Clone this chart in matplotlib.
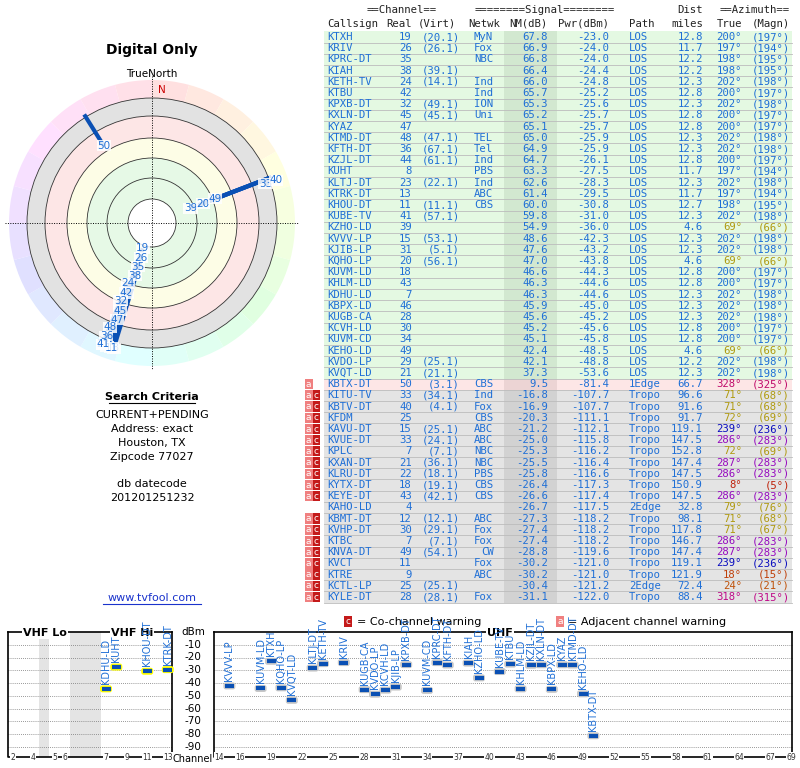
import colorsys
import numpy as np
import matplotlib
matplotlib.use("Agg")
import matplotlib.pyplot as plt
from matplotlib.patches import Circle, Wedge, Rectangle, FancyBboxPatch

# ── Station table ─────────────────────────────────────────────────────────────
callsign = ["KTXH", "KRIV", "KPRC-DT", "KIAH", "KETH-TV", "KTBU", "KPXB-DT", "KXLN-DT", "KYAZ",
            "KTMD-DT", "KFTH-DT", "KZJL-DT", "KUHT", "KLTJ-DT", "KTRK-DT", "KHOU-DT", "KUBE-TV",
            "KZHO-LD", "KVVV-LP", "KJIB-LP", "KQHO-LP", "KUVM-LD", "KHLM-LD", "KDHU-LD", "KBPX-LD",
            "KUGB-CA", "KCVH-LD", "KUVM-CD", "KEHO-LD", "KVDO-LP", "KVQT-LD", "KBTX-DT", "KITU-TV",
            "KBTV-DT", "KFDM", "KAVU-DT", "KVUE-DT", "KPLC", "KXAN-DT", "KLRU-DT", "KYTX-DT",
            "KEYE-DT", "KAHO-LD", "KBMT-DT", "KVHP-DT", "KTBC", "KNVA-DT", "KVCT", "KTRE",
            "KCTL-LP", "KYLE-DT"]
real_ch = [19, 26, 35, 38, 24, 42, 32, 45, 47, 48, 36, 44, 8, 23, 13, 11, 41, 39, 15, 31, 20, 18,
           43, 7, 46, 28, 30, 34, 49, 29, 21, 50, 33, 40, 25, 15, 33, 7, 21, 22, 18, 43, 4, 12, 30,
           7, 49, 11, 9, 25, 28]
virt_ch = ["20.1", "26.1", "", "39.1", "14.1", "", "49.1", "45.1", "", "47.1", "67.1", "61.1", "",
           "22.1", "", "11.1", "57.1", "", "53.1", "5.1", "56.1", "", "", "", "", "", "", "", "",
           "25.1", "21.1", "3.1", "34.1", "4.1", "", "25.1", "24.1", "7.1", "36.1", "18.1", "19.1",
           "42.1", "", "12.1", "29.1", "7.1", "54.1", "", "", "25.1", "28.1"]
network = ["MyN", "Fox", "NBC", "", "Ind", "Ind", "ION", "Uni", "", "TEL", "Tel", "Ind", "PBS", "Ind",
           "ABC", "CBS", "", "", "", "", "", "", "", "", "", "", "", "", "", "", "", "CBS", "Ind",
           "Fox", "CBS", "ABC", "ABC", "NBC", "NBC", "PBS", "CBS", "CBS", "", "ABC", "Fox", "Fox",
           "CW", "Fox", "ABC", "", "Fox"]
nm_db = [67.8, 66.9, 66.8, 66.4, 66.0, 65.7, 65.3, 65.2, 65.1, 65.0, 64.9, 64.7, 63.3, 62.6, 61.4,
         60.0, 59.8, 54.9, 48.6, 47.6, 47.0, 46.6, 46.3, 46.3, 45.9, 45.6, 45.2, 45.1, 42.4, 42.1,
         37.3, 9.5, -16.8, -16.9, -20.3, -21.2, -25.0, -25.3, -25.5, -25.8, -26.4, -26.6, -26.7,
         -27.3, -27.4, -27.4, -28.8, -30.2, -30.2, -30.4, -31.1]
pwr_dbm = [-23.0, -24.0, -24.0, -24.4, -24.8, -25.2, -25.6, -25.7, -25.7, -25.9, -25.9, -26.1, -27.5,
           -28.3, -29.5, -30.8, -31.0, -36.0, -42.3, -43.2, -43.8, -44.3, -44.6, -44.6, -45.0,
           -45.2, -45.6, -45.8, -48.5, -48.8, -53.6, -81.4, -107.7, -107.7, -111.1, -112.1,
           -115.8, -116.2, -116.4, -116.6, -117.3, -117.4, -117.5, -118.2, -118.2, -118.2,
           -119.6, -121.0, -121.0, -121.2, -122.0]
path = ["LOS"] * 31 + ["1Edge"] + ["Tropo"] * 10 + ["2Edge"] + ["Tropo"] * 6 + ["2Edge", "Tropo"]
dist = [12.8, 11.7, 12.2, 12.2, 12.3, 12.8, 12.3, 12.8, 12.8, 12.3, 12.3, 12.8, 11.7, 12.3, 11.7,
        12.7, 12.3, 4.6, 12.3, 12.3, 4.6, 12.8, 12.8, 12.3, 12.3, 12.3, 12.8, 12.8, 4.6, 12.2,
        12.3, 66.7, 96.6, 91.6, 91.7, 119.1, 147.5, 152.8, 147.4, 147.5, 150.9, 147.5, 32.8,
        98.1, 117.8, 146.7, 147.4, 119.1, 121.9, 72.4, 88.4]
az_true = [200, 197, 198, 198, 202, 200, 202, 200, 200, 202, 202, 200, 197, 202, 197, 198, 202, 69,
           202, 202, 69, 200, 200, 202, 202, 202, 200, 200, 69, 202, 202, 328, 71, 71, 72, 239,
           286, 72, 287, 286, 8, 286, 79, 71, 71, 286, 287, 239, 18, 24, 318]
az_magn = [197, 194, 195, 195, 198, 197, 198, 197, 197, 198, 198, 197, 194, 198, 194, 195, 198, 66,
           198, 198, 66, 197, 197, 198, 198, 198, 197, 197, 66, 198, 198, 325, 68, 68, 69, 236,
           283, 69, 283, 283, 5, 283, 76, 68, 67, 283, 283, 236, 15, 21, 315]
warn = [""] * 31 + ["a"] + ["ac"] * 10 + [""] + ["ac"] * 8

BLUE = "#1f6fd6"
MONO = "DejaVu Sans Mono"
SANS = "DejaVu Sans"

fig = plt.figure(figsize=(8, 7.68), dpi=100)
ax = fig.add_axes([0, 0, 1, 1])
ax.set_xlim(0, 800)
ax.set_ylim(768, 0)
ax.axis("off")


def az_color(a):
    if 190 <= a <= 210:
        return BLUE
    if 60 <= a <= 80:
        return "#b09a10"
    r, g, b = colorsys.hsv_to_rgb((a / 360.0) % 1.0, 0.95, 0.75)
    return (r, g, b)


# ── Table ─────────────────────────────────────────────────────────────────────
fs = 7.7
row0, rh = 37.0, 11.2
ax.text(402, 10, "==Channel==", family=MONO, fontsize=fs, ha="center", va="center", color="#222")
ax.text(545, 10, "========Signal========", family=MONO, fontsize=fs, ha="center", va="center", color="#222")
ax.text(703, 10, "Dist", family=MONO, fontsize=fs, ha="right", va="center", color="#222")
ax.text(755, 10, "==Azimuth==", family=MONO, fontsize=fs, ha="center", va="center", color="#222")
hdr = [(327, "Callsign", "left"), (412, "Real", "right"), (437, "(Virt)", "center"),
       (468, "Netwk", "left"), (548, "NM(dB)", "right"), (609, "Pwr(dBm)", "right"),
       (629, "Path", "left"), (703, "miles", "right"), (717, "True", "left"), (790, "(Magn)", "right")]
for x, t, ha in hdr:
    ax.text(x, 24, t, family=MONO, fontsize=fs, ha=ha, va="center", color="#222")

for i in range(len(callsign)):
    y = row0 + i * rh
    if path[i] == "LOS":
        bg, nmbg = "#e4f9e2", "#d2e8d0"
    elif path[i] == "1Edge":
        bg, nmbg = "#fde6e6", "#ecd4d4"
    else:
        bg, nmbg = "#e4e4e4", "#d2d2d2"
    ax.add_patch(Rectangle((324, y - rh / 2), 468, rh, facecolor=bg, edgecolor="none"))
    ax.add_patch(Rectangle((504, y - rh / 2), 53, rh, facecolor=nmbg, edgecolor="none"))
    ax.plot([324, 792], [y + rh / 2, y + rh / 2], color="#bcbcbc", lw=0.6)
    if "a" in warn[i]:
        ax.add_patch(Rectangle((305, y - rh / 2 + 0.5), 7.5, rh - 1, facecolor="#f08080", edgecolor="none"))
        ax.text(308.7, y, "a", family=SANS, fontsize=6.5, ha="center", va="center", color="white")
    if "c" in warn[i]:
        ax.add_patch(Rectangle((312.5, y - rh / 2 + 0.5), 7.5, rh - 1, facecolor="#c41a1a", edgecolor="none"))
        ax.text(316.2, y, "c", family=SANS, fontsize=6.5, ha="center", va="center", color="white")
    kw = dict(family=MONO, fontsize=fs, va="center", color=BLUE)
    ax.text(327, y, callsign[i], ha="left", **kw)
    ax.text(412, y, str(real_ch[i]), ha="right", **kw)
    if virt_ch[i]:
        ax.text(460, y, "(%s)" % virt_ch[i], ha="right", **kw)
    ax.text(494 if network[i] == "CW" else 474, y, network[i], ha="right" if network[i] == "CW" else "left", **kw)
    ax.text(548, y, "%.1f" % nm_db[i], ha="right", **kw)
    ax.text(609, y, "%.1f" % pwr_dbm[i], ha="right", **kw)
    ax.text(629, y, path[i], ha="left", **kw)
    ax.text(703, y, "%.1f" % dist[i], ha="right", **kw)
    c = az_color(az_true[i])
    ax.text(742, y, "%d°" % az_true[i], ha="right", family=MONO, fontsize=fs, va="center", color=c)
    ax.text(790, y, "(%d°)" % az_magn[i], ha="right", family=MONO, fontsize=fs, va="center", color=c)

# ── Radar ─────────────────────────────────────────────────────────────────────
cx, cy = 152, 223
ax.text(cx, 50, "Digital Only", family=SANS, fontsize=10, fontweight="bold", ha="center", va="center")
ax.text(cx, 74, "TrueNorth", family=SANS, fontsize=7.5, ha="center", va="center")
for a0 in range(0, 360, 15):
    r, g, b = colorsys.hsv_to_rgb(a0 / 360.0, 0.12, 1.0)
    ax.add_patch(Wedge((cx, cy), 143, a0 - 90, a0 - 75, width=18, facecolor=(r, g, b), edgecolor="none"))
for rad, col in [(125, "#e2e2e2"), (107, "#fde6e6"), (85, "#fdfde6"), (65, "#e6f9e6"), (24, "white")]:
    ax.add_patch(Circle((cx, cy), rad, facecolor=col, edgecolor="none"))
for rad in [24, 45, 65, 85, 107, 125]:
    ax.add_patch(Circle((cx, cy), rad, facecolor="none", edgecolor="#333", lw=0.6))
ax.plot([cx - 147, cx + 147], [cy, cy], color="black", lw=0.7, ls=(0, (1, 1.5)))
ax.plot([cx, cx], [cy - 147, cy + 147], color="black", lw=0.7, ls=(0, (1, 1.5)))
ax.text(cx + 10, cy - 133, "N", family=SANS, fontsize=7.5, color="#cc0000", ha="center", va="center")


def polar_xy(a, rad):
    t = np.radians(a)
    return cx + rad * np.sin(t), cy - rad * np.cos(t)


# stations drawn on the radar: usable signal, full power (plus the nearby low-power group at 69°)
shown = [i for i in range(len(callsign))
         if nm_db[i] > -20 and (callsign[i][-3:] not in ("-LD", "-LP", "-CA", "-CD") or az_true[i] < 100)]
groups = {}
for i in shown:
    groups.setdefault((round(az_true[i] / 15.0), path[i] == "LOS"), []).append(i)

for key, idx in groups.items():
    idx = sorted(idx, key=lambda k: -nm_db[k])
    r_start = 27 + (67.8 - nm_db[idx[0]]) * 1.1
    step = 13.0 if len(idx) < 5 else 9.5
    radii = [min(r_start + k * step, 131) for k in range(len(idx))]
    for k, i in enumerate(idx):
        x0, y0 = polar_xy(az_true[i], radii[k])
        x1, y1 = polar_xy(az_true[i], 128)
        if real_ch[i] <= 13:
            ax.plot([x0, x1], [y0, y1], color="yellow", lw=7, solid_capstyle="butt", zorder=3)
        ax.plot([x0, x1], [y0, y1], color="#0a50b4", lw=3, solid_capstyle="butt", zorder=4)
    for k, i in enumerate(idx):
        x0, y0 = polar_xy(az_true[i], radii[k])
        ax.text(x0, y0, str(real_ch[i]), family=SANS, fontsize=7.5, color=BLUE, ha="center", va="center",
                zorder=5, bbox=dict(boxstyle="square,pad=0.05", facecolor="white", edgecolor="none", alpha=0.85))

# ── Search criteria ───────────────────────────────────────────────────────────
ax.text(cx, 397, "Search Criteria", family=SANS, fontsize=8, fontweight="bold", ha="center", va="center")
ax.plot([cx - 43, cx + 43], [403, 403], color="black", lw=0.8)
for y, t in [(415, "CURRENT+PENDING"), (429, "Address: exact"), (443, "Houston, TX"),
             (457, "Zipcode 77027"), (484, "db datecode"), (498, "201201251232")]:
    ax.text(cx, y, t, family=SANS, fontsize=8, ha="center", va="center")
ax.text(cx, 598, "www.tvfool.com", family=SANS, fontsize=8, ha="center", va="center", color="#1a33cc")
ax.plot([cx - 49, cx + 49], [604, 604], color="#1a33cc", lw=0.8)

# ── Legend ────────────────────────────────────────────────────────────────────
ax.add_patch(Rectangle((344, 616), 8, 11, facecolor="#c41a1a"))
ax.text(348, 621.5, "c", family=SANS, fontsize=6.5, color="white", ha="center", va="center")
ax.text(357, 622, "= Co-channel warning", family=SANS, fontsize=8, ha="left", va="center")
ax.add_patch(Rectangle((556, 616), 8, 11, facecolor="#f08080"))
ax.text(560, 621.5, "a", family=SANS, fontsize=6.5, color="white", ha="center", va="center")
ax.text(568, 622, "= Adjacent channel warning", family=SANS, fontsize=8, ha="left", va="center")

# ── Spectrum panels ───────────────────────────────────────────────────────────
vhf_x = {2: 13, 3: 23, 4: 33, 5: 55, 6: 65}
vhf_x.update({c: 106 + (c - 7) * 10.3 for c in range(7, 14)})
vhf_ticks = [2, 4, 5, 6, 7, 9, 11, 13]
uhf_ticks = [14, 16, 19, 22, 25, 28, 31, 34, 37, 40, 43, 46, 49, 52, 55, 58, 61, 64, 67, 69]


def ch_x(c):
    return vhf_x[c] if c <= 13 else 219 + (c - 14) * 10.4


def dbm_y(v):
    return 632 + (-v) * 1.275


top, bot = 632, 757
ax.add_patch(Rectangle((39, top), 10, bot - top, facecolor="#e4e4e4", edgecolor="none"))
ax.add_patch(Rectangle((70, top), 31, bot - top, facecolor="#e4e4e4", edgecolor="none"))
for x0, x1 in [(8, 172), (214, 792)]:
    for d in range(-10, -100, -10):
        ax.plot([x0, x1], [dbm_y(d)] * 2, color="#777", lw=0.6, ls=(0, (1, 1.5)))
    ax.plot([x0, x0, x1, x1], [top, bot, bot, top], color="black", lw=1.2)
    ax.plot([x0, x1], [top, top], color="black", lw=1.2)
for x, t in [(45, "VHF Lo"), (132, "VHF Hi"), (500, "UHF")]:
    ax.text(x, top + 1, t, family=SANS, fontsize=8, fontweight="bold", ha="center", va="center",
            bbox=dict(facecolor="white", edgecolor="none", pad=1))
ax.text(193, top, "dBm", family=SANS, fontsize=7.5, ha="center", va="center")
for d in range(-10, -100, -10):
    ax.text(193, dbm_y(d), str(d), family=SANS, fontsize=7.5, ha="center", va="center")
ax.text(193, 759, "Channel", family=SANS, fontsize=7, ha="center", va="center")
for c in vhf_ticks + uhf_ticks:
    ax.text(ch_x(c), bot, str(c), family=SANS, fontsize=5.5, ha="center", va="center", color="#333",
            bbox=dict(facecolor="white", edgecolor="none", pad=0.3))

for i in range(len(callsign)):
    if nm_db[i] < 0:
        continue
    x, y = ch_x(real_ch[i]), dbm_y(pwr_dbm[i])
    edge = "yellow" if real_ch[i] <= 13 else "#c8c8c8"
    ax.add_patch(FancyBboxPatch((x - 5, y - 2.5), 10, 5, boxstyle="round,pad=1,rounding_size=2.5",
                                facecolor=edge, edgecolor="none", zorder=3))
    ax.plot([x - 4.5, x + 4.5], [y, y], color="#0a50b4", lw=3, solid_capstyle="butt", zorder=4)
    ax.text(x, y - 5, callsign[i], family=SANS, fontsize=7, color=BLUE, rotation=90,
            ha="center", va="bottom", zorder=5)

fig.savefig("out.png", dpi=100)
